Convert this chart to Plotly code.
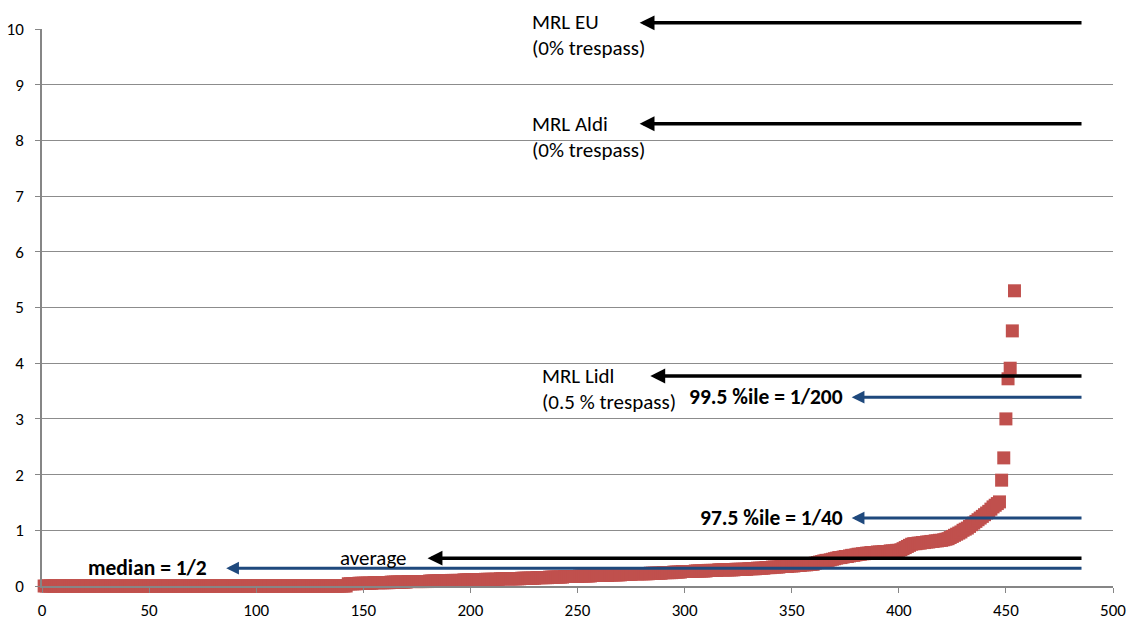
import plotly.graph_objects as go

# sorted residue values (one point per sample)
values = [
    0.00, 0.00, 0.00, 0.00, 0.00, 0.00, 0.00, 0.00, 0.00, 0.00, 0.00, 0.00, 0.00, 0.00, 0.00, 0.00, 0.00, 0.00, 0.00, 0.00,
    0.00, 0.00, 0.00, 0.00, 0.00, 0.00, 0.00, 0.00, 0.00, 0.00, 0.00, 0.00, 0.00, 0.00, 0.00, 0.00, 0.00, 0.00, 0.00, 0.00,
    0.00, 0.00, 0.00, 0.00, 0.00, 0.00, 0.00, 0.00, 0.00, 0.00, 0.00, 0.00, 0.00, 0.00, 0.00, 0.00, 0.00, 0.00, 0.00, 0.00,
    0.00, 0.00, 0.00, 0.00, 0.00, 0.00, 0.00, 0.00, 0.00, 0.00, 0.00, 0.00, 0.00, 0.00, 0.00, 0.00, 0.00, 0.00, 0.00, 0.00,
    0.00, 0.00, 0.00, 0.00, 0.00, 0.00, 0.00, 0.00, 0.00, 0.00, 0.00, 0.00, 0.00, 0.00, 0.00, 0.00, 0.00, 0.00, 0.00, 0.00,
    0.00, 0.00, 0.00, 0.00, 0.00, 0.00, 0.00, 0.00, 0.00, 0.00, 0.00, 0.00, 0.00, 0.00, 0.00, 0.00, 0.00, 0.00, 0.00, 0.00,
    0.00, 0.00, 0.00, 0.00, 0.00, 0.00, 0.00, 0.00, 0.00, 0.00, 0.00, 0.00, 0.00, 0.00, 0.00, 0.00, 0.00, 0.00, 0.00, 0.00,
    0.00, 0.00, 0.04, 0.04, 0.04, 0.04, 0.04, 0.05, 0.05, 0.05, 0.05, 0.05, 0.05, 0.05, 0.06, 0.06, 0.06, 0.06, 0.06, 0.06,
    0.06, 0.06, 0.07, 0.07, 0.07, 0.07, 0.07, 0.07, 0.07, 0.07, 0.08, 0.08, 0.08, 0.08, 0.08, 0.08, 0.08, 0.08, 0.08, 0.08,
    0.09, 0.09, 0.09, 0.09, 0.09, 0.09, 0.09, 0.09, 0.09, 0.09, 0.10, 0.10, 0.10, 0.10, 0.10, 0.10, 0.11, 0.11, 0.11, 0.11,
    0.11, 0.11, 0.11, 0.11, 0.11, 0.11, 0.12, 0.12, 0.12, 0.12, 0.12, 0.12, 0.12, 0.13, 0.13, 0.13, 0.13, 0.13, 0.13, 0.13,
    0.13, 0.13, 0.13, 0.14, 0.14, 0.14, 0.14, 0.14, 0.14, 0.14, 0.15, 0.15, 0.15, 0.15, 0.15, 0.15, 0.16, 0.16, 0.16, 0.16,
    0.16, 0.16, 0.16, 0.17, 0.17, 0.17, 0.17, 0.17, 0.17, 0.17, 0.18, 0.18, 0.18, 0.18, 0.18, 0.18, 0.19, 0.19, 0.19, 0.19,
    0.19, 0.19, 0.19, 0.19, 0.20, 0.20, 0.20, 0.20, 0.20, 0.20, 0.21, 0.21, 0.21, 0.21, 0.21, 0.22, 0.22, 0.22, 0.22, 0.22,
    0.22, 0.22, 0.22, 0.23, 0.23, 0.23, 0.23, 0.23, 0.23, 0.24, 0.24, 0.24, 0.24, 0.24, 0.25, 0.25, 0.25, 0.25, 0.26, 0.26,
    0.26, 0.26, 0.26, 0.26, 0.27, 0.27, 0.27, 0.27, 0.27, 0.27, 0.28, 0.28, 0.28, 0.28, 0.28, 0.29, 0.29, 0.29, 0.29, 0.29,
    0.29, 0.29, 0.29, 0.30, 0.30, 0.30, 0.30, 0.30, 0.30, 0.31, 0.31, 0.31, 0.31, 0.32, 0.32, 0.32, 0.32, 0.33, 0.33, 0.33,
    0.34, 0.34, 0.34, 0.34, 0.35, 0.35, 0.35, 0.35, 0.36, 0.36, 0.36, 0.37, 0.37, 0.37, 0.38, 0.38, 0.38, 0.39, 0.39, 0.39,
    0.41, 0.42, 0.43, 0.44, 0.45, 0.46, 0.46, 0.47, 0.48, 0.49, 0.50, 0.51, 0.51, 0.52, 0.53, 0.53, 0.54, 0.55, 0.55, 0.56,
    0.57, 0.57, 0.58, 0.58, 0.59, 0.59, 0.60, 0.60, 0.60, 0.61, 0.61, 0.61, 0.62, 0.62, 0.62, 0.63, 0.63, 0.63, 0.64, 0.64,
    0.65, 0.67, 0.69, 0.71, 0.73, 0.75, 0.76, 0.76, 0.77, 0.77, 0.78, 0.78, 0.79, 0.79, 0.80, 0.80, 0.81, 0.81, 0.82, 0.82,
    0.83, 0.84, 0.85, 0.87, 0.89, 0.91, 0.93, 0.95, 0.97, 1.00, 1.02, 1.04, 1.07, 1.10, 1.13, 1.16, 1.19, 1.22, 1.25, 1.28,
    1.31, 1.34, 1.38, 1.42, 1.45, 1.48, 1.51, 1.90, 2.30, 3.00, 3.72, 3.91, 4.58, 5.30,
]
sample_no = list(range(1, len(values) + 1))

Y_MAX = 10

# reference levels drawn as arrows (level, arrow tip on x axis, colour)
ref_names = ["MRL EU", "MRL Aldi", "MRL Lidl", "99.5 %ile", "97.5 %ile", "average", "median"]
ref_levels = [10.11, 8.30, 3.77, 3.39, 1.22, 0.50, 0.32]
ref_tip_x = [279, 279, 284, 378, 378, 180, 86]
ref_tail_x = 486
ref_colors = ["black", "black", "black", "#1F497D", "#1F497D", "black", "#1F497D"]

# text labels: text, x, y, bold, anchor
label_text = ["MRL EU", "(0% trespass)", "MRL Aldi", "(0% trespass)", "MRL Lidl", "(0.5 % trespass)",
              "99.5 %ile = 1/200", "97.5 %ile = 1/40", "average", "median = 1/2"]
label_x = [228, 228, 228, 228, 232.5, 232.5, 375, 375, 138, 20.5]
label_y = [10.13, 9.66, 8.29, 7.83, 3.77, 3.30, 3.39, 1.22, 0.50, 0.32]
label_bold = [False, False, False, False, False, False, True, True, False, True]
label_anchor = ["left"] * 6 + ["right", "right", "left", "left"]

FONT = "Calibri, Carlito, Lato, sans-serif"

fig = go.Figure()
fig.add_trace(go.Scatter(
    x=sample_no, y=values, mode="markers",
    marker=dict(symbol="square", size=13, color="#C0504D", line=dict(width=0)),
    cliponaxis=False, showlegend=False,
))

annotations = []
for lvl, tip, col in zip(ref_levels, ref_tip_x, ref_colors):
    # y in paper units so the level above the axis top is still drawn
    annotations.append(dict(
        x=tip, y=lvl / Y_MAX, ax=ref_tail_x, ay=0, xref="x", yref="paper", axref="x", ayref="pixel",
        text="", showarrow=True, arrowhead=2, arrowsize=0.85,
        arrowwidth=3.5 if col == "black" else 3, arrowcolor=col, standoff=0,
    ))
for t, x, y, b, anc in zip(label_text, label_x, label_y, label_bold, label_anchor):
    annotations.append(dict(
        x=x, y=y / Y_MAX, xref="x", yref="paper", text=f"<b>{t}</b>" if b else t,
        showarrow=False, xanchor=anc, yanchor="middle",
        font=dict(family=FONT, size=21.5 if b else 21, color="black"),
    ))

fig.update_layout(
    width=1130, height=620,
    margin=dict(l=42, r=17, t=29, b=34),
    paper_bgcolor="white", plot_bgcolor="white",
    font=dict(family=FONT, size=17, color="black"),
    annotations=annotations,
    xaxis=dict(range=[0, 500], tick0=0, dtick=50, showgrid=False, zeroline=False, automargin=False,
               showline=True, linecolor="#868686", linewidth=1.5,
               ticks="outside", ticklen=5, tickcolor="#868686", ticklabelstandoff=3),
    yaxis=dict(range=[0, Y_MAX], tick0=0, dtick=1, showgrid=True, gridcolor="#8C8C8C", gridwidth=1,
               zeroline=False, automargin=False, showline=True, linecolor="#868686", linewidth=1.5,
               ticks="outside", ticklen=5, tickcolor="#868686", ticklabelstandoff=8),
)

fig.write_html("out.html", config={"displayModeBar": False},
               post_script="document.body.style.margin='0';")
